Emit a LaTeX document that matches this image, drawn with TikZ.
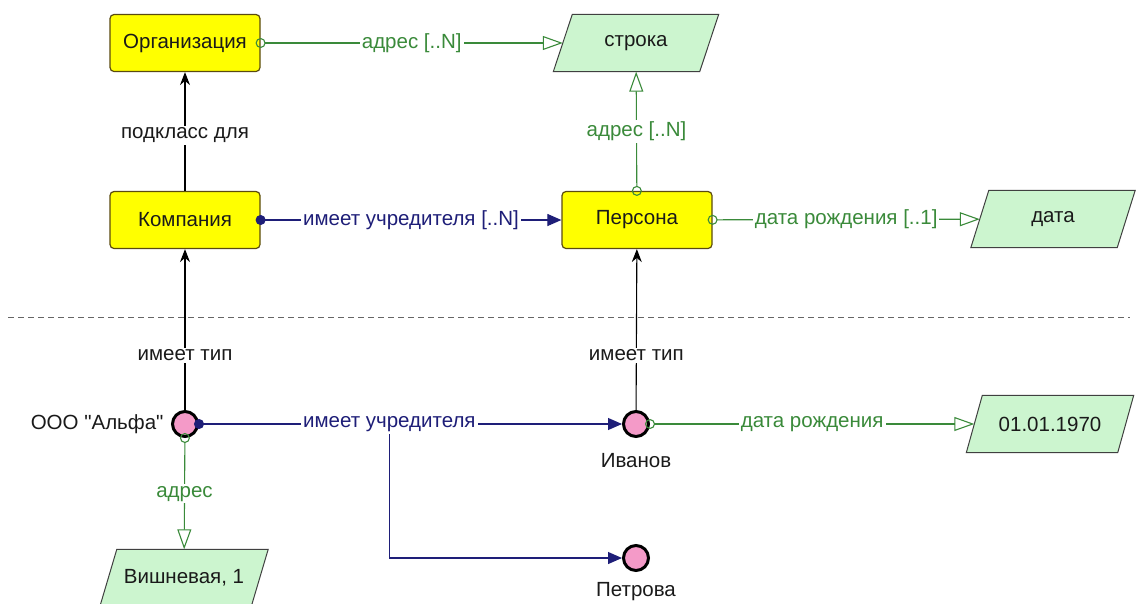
\documentclass[tikz,border=0pt]{standalone}
\usepackage{fontspec}
\setmainfont{Liberation Sans}[Ligatures=TeXOff]
\usetikzlibrary{arrows.meta,backgrounds}
\definecolor{ybox}{HTML}{FFFF00}
\definecolor{ybord}{HTML}{5A4A10}
\definecolor{gfill}{HTML}{CCF5CF}
\definecolor{gline}{HTML}{3A8A3A}
\definecolor{navy}{HTML}{1E1E78}
\definecolor{pinkf}{HTML}{F49AC8}
\definecolor{txt}{HTML}{1A1A1A}
\begin{document}
\begin{tikzpicture}[x=1pt,y=-1pt,font=\fontsize{20.5}{24}\selectfont,
 cls/.style={draw=ybord,fill=ybox,line width=1.2pt,rounded corners=4pt,minimum width=150,minimum height=57,text=txt},
 dtype/.style={rectangle,minimum width=146,minimum height=57,text=txt},
 parabox/.style={draw=black!75,fill=gfill,line width=1pt},
 inst/.style={circle,draw=black,line width=3pt,fill=pinkf,minimum size=25,inner sep=0pt},
 lbl/.style={fill=white,inner sep=2pt},
 prop/.style={gline,line width=1.1pt,{Circle[open,length=10,width=10]}-{Triangle[open,length=20,width=14]},shorten <=-5pt},
 rel/.style={navy,line width=1.1pt,{Circle[length=10,width=10]}-{Triangle[length=14,width=12]},shorten <=-5pt},
 relb/.style={navy,line width=1.1pt,-{Triangle[length=14,width=12]}},
 isa/.style={black,line width=1.1pt,-{Stealth[length=13,width=10]}},
 sep/.style={black!60,line width=0.8pt,dash pattern=on 6pt off 4pt},
]
\useasboundingbox (0,0) rectangle (1137,603);

% classes and datatypes
\node[cls] (org) at (185,43) {Организация};
\node[cls] (komp) at (185,220) {Компания};
\node[cls] (pers) at (637,220) {Персона};
\node[dtype] (str) at (636,43) {строка};
\node[dtype] (data) at (1053,219) {дата};

% separator
\coordinate (sl) at (8,317);
\coordinate (sr) at (1130,317);
\draw[sep] (sl) -- (sr);

% instances
\node[inst] (alfa) at (185,424) {};
\node[inst] (ivan) at (636,424) {};
\node[inst] (petr) at (636,558) {};
\node[text=txt,anchor=east] (alfal) at (167,424) {ООО "Альфа"};
\node[text=txt] (ivanl) at (636,461) {Иванов};
\node[text=txt] (petrl) at (636,592) {Петрова};
\node[dtype,minimum width=151] (dob) at (1050,424) {01.01.1970};
\node[dtype,minimum width=151] (vish) at (184,578) {Вишневая, 1};

% parallelogram outlines of the datatype nodes
\begin{scope}[on background layer]
\foreach \n/\s in {str/19,data/18,dob/16,vish/17}
  \draw[parabox] ([xshift=-\s/2]\n.south west) -- ([xshift=\s/2]\n.north west)
    -- ([xshift=\s/2]\n.north east) -- ([xshift=-\s/2]\n.south east) -- cycle;
\end{scope}

% schema connectors
\draw[prop] (org) -- node[lbl,text=gline]{адрес [..N]} (str);
\draw[prop] (pers) -- node[lbl,text=gline]{адрес [..N]} (str);
\draw[isa] (komp) -- node[lbl,text=txt,pos=0.47]{подкласс для} (org);
\draw[rel] (komp) -- node[lbl,text=navy]{имеет учредителя [..N]} (pers);
\draw[prop] (pers) -- node[lbl,text=gline]{дата рождения [..1]} (data);

% instance connectors
\draw[isa] (alfa) -- node[lbl,text=txt,pos=0.34]{имеет тип} (komp);
\draw[isa] (ivan) -- node[lbl,text=txt,pos=0.34]{имеет тип} (pers);
\draw[rel] (alfa) -- node[lbl,text=navy,pos=0.45] (fl) {имеет учредителя} (ivan);
\draw[relb] (fl.south) |- (petr);
\draw[prop] (ivan) -- node[lbl,text=gline]{дата рождения} (dob);
\draw[prop] (alfa) -- node[lbl,text=gline]{адрес} (vish);
\end{tikzpicture}
\end{document}
